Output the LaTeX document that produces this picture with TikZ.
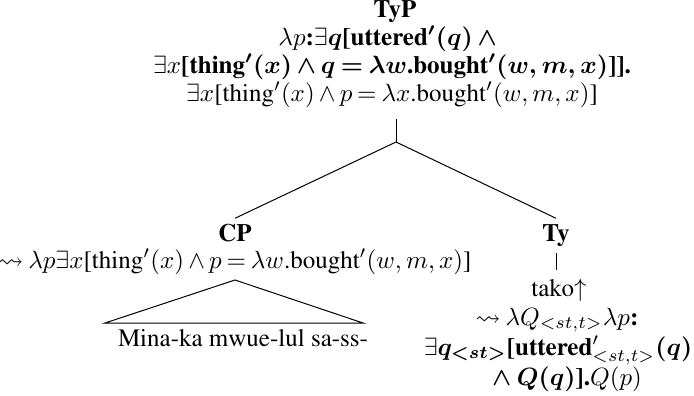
\documentclass[tikz,border=0pt]{standalone}
\usepackage[T1]{fontenc}
\usepackage{times}
\usepackage{amsmath,amssymb}
\begin{document}
\begin{tikzpicture}[x=0.4pt,y=-0.4pt,
  txt/.style={anchor=base, inner sep=0pt, font={\fontsize{10}{12}\selectfont\thickmuskip=3.5mu\medmuskip=3mu}},
  lbl/.style={txt, font={\fontsize{10}{12}\selectfont\bfseries}},
  edge/.style={line width=0.4pt}]
\useasboundingbox (0,0) rectangle (694,395);
% top node
\node[lbl] (typ) at (395,17) {TyP};
\node[txt] (typa) at (390,45) {$\lambda p$\textbf{:}$\exists$\textbf{\boldmath$q$[uttered$'(q)\wedge{}$}};
\node[txt] (typb) at (392,73) {$\exists x$\textbf{\boldmath[thing$'(x)\wedge q=\lambda w$.bought$'(w, m, x)$]].}};
\node[txt] (typc) at (392,101) {$\exists x$[thing$'(x)\wedge p=\lambda x$.bought$'(w, m, x)$]};
\coordinate (stemtop) at (396,119);
\coordinate (fork) at (396,142);
% CP
\node[lbl] (cp) at (235,241) {CP};
\node[txt] (cpsem) at (235,268) {$\leadsto\lambda p\exists x$[thing$'(x)\wedge p=\lambda w$.bought$'(w, m, x)$]};
\coordinate (apex) at (235,280);
\coordinate (bl) at (105,323);
\coordinate (br) at (363,323);
\node[txt] (mina) at (243,346) {Mina-ka mwue-lul sa-ss-};
% Ty
\node[lbl] (ty) at (556,241) {Ty};
\node[txt] (tako) at (559,296) {tako$\uparrow$};
\coordinate (tyl1) at (556,253);
\coordinate (tyl2) at (556,270);
\node[txt] (tya) at (557,325) {$\leadsto\lambda Q_{<st,t>}\lambda p$\textbf{:}};
\node[txt] (tyb) at (558,355) {$\exists$\textbf{\boldmath$q_{<st>}$[uttered}$'_{<st,t>}$\textbf{\boldmath$(q)$}};
\node[txt] (tyc) at (567,385) {\textbf{\boldmath$\wedge\;Q(q)$].}$Q(p)$};
% edges
\draw[edge] (stemtop) -- (fork);
\draw[edge] (fork) -- ([yshift=2pt]cp.north);
\draw[edge] (fork) -- ([yshift=2pt]ty.north);
\draw[edge] (tyl1) -- (tyl2);
\draw[edge] (apex) -- (bl) -- (br) -- cycle;
\end{tikzpicture}
\end{document}
